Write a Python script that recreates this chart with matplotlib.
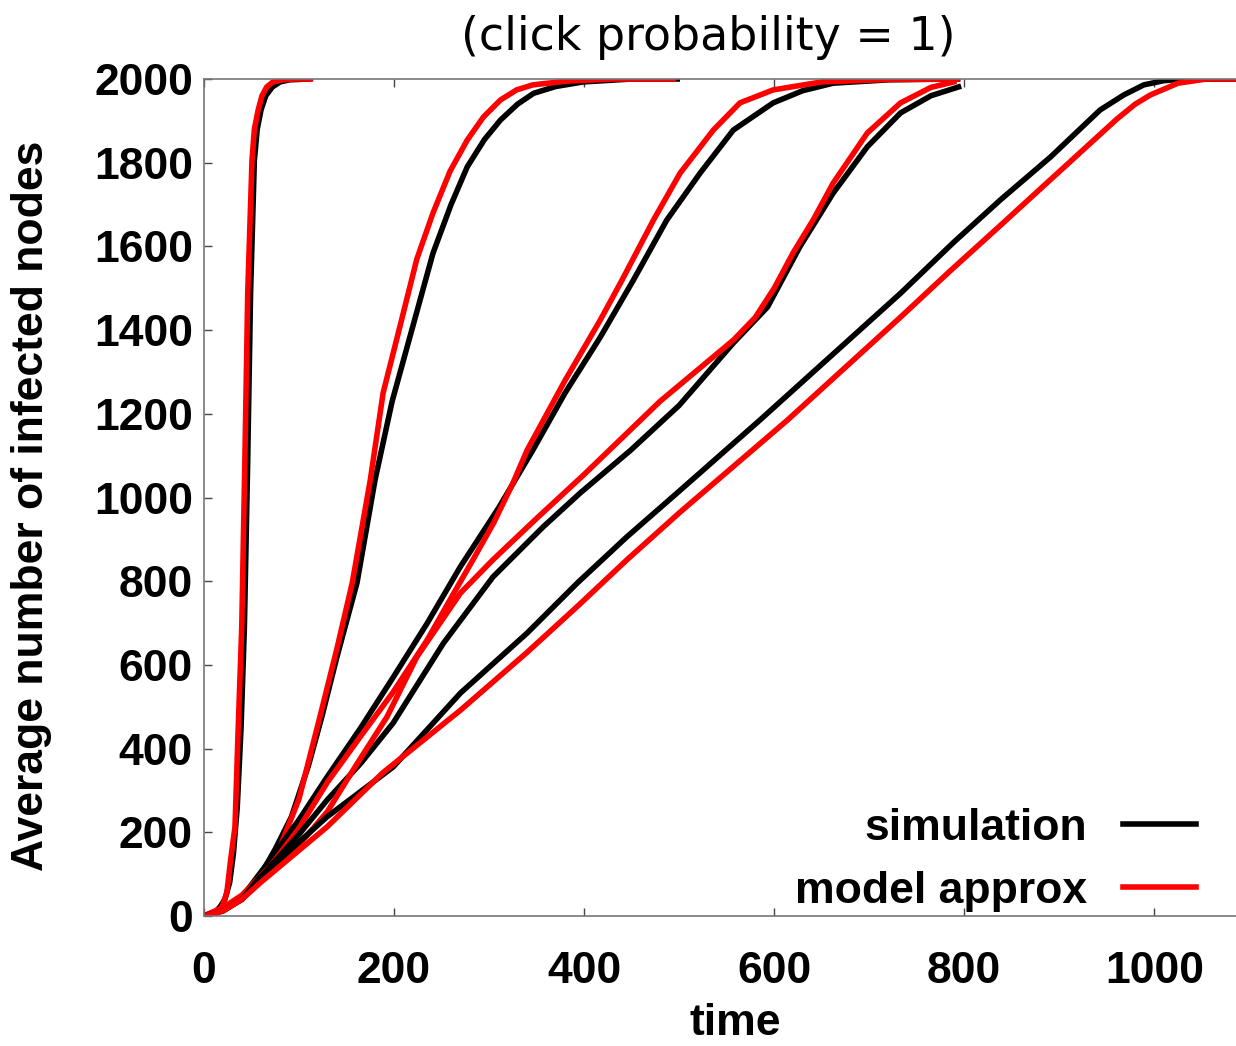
import matplotlib
matplotlib.use("Agg")
import matplotlib.pyplot as plt

plt.rcParams.update({"font.family": ["Liberation Sans", "DejaVu Sans"], "font.weight": "bold"})

# five spreading scenarios: simulation (black) vs model approx (red)
simA_t = [0, 10, 17, 22, 27, 31, 35, 39, 42.5, 46, 49, 53, 56, 60, 65, 72, 80, 90, 110]
simA_n = [0, 5, 22, 40, 80, 150, 260, 450, 690, 1090, 1488, 1806, 1880, 1926, 1960, 1981, 1993, 1998, 2000]
modA_t = [0, 10, 18, 24, 28, 32.6, 36, 39.7, 43, 46, 50.5, 53, 57, 61, 66, 72, 80, 95, 112]
modA_n = [0, 4, 15, 55, 134, 213, 450, 690, 1090, 1488, 1806, 1880, 1926, 1960, 1981, 1992, 1997, 2000, 2000]

simB_t = [0, 20, 40, 60, 75, 92, 110, 124, 140, 161, 180, 198, 215, 241, 260, 277, 295, 312, 330, 347, 370, 399, 450, 498]
simB_n = [0, 15, 45, 100, 160, 237, 360, 476, 620, 796, 1042, 1230, 1370, 1584, 1700, 1790, 1855, 1902, 1940, 1966, 1982, 1993, 2000, 2000]
modB_t = [0, 20, 40, 60, 80, 100, 122, 140, 156, 175, 188.5, 206, 224, 241, 259, 277, 294, 312, 329, 346, 382, 430, 494]
modB_n = [0, 20, 40, 90, 165, 280, 476, 640, 796, 1042, 1250, 1407, 1570, 1680, 1780, 1854, 1909, 1950, 1974, 1986, 1995, 2000, 2000]

simC_t = [0, 20, 40, 69.5, 100, 129.5, 165, 199, 235, 269.6, 310, 346, 380, 417, 452, 487, 522, 557, 599, 630, 662, 720, 793]
simC_n = [0, 15, 45, 134, 230, 332, 450, 570, 700, 834, 975, 1113, 1250, 1383, 1520, 1663, 1775, 1878, 1943, 1972, 1990, 1998, 2000]
modC_t = [0, 20, 40, 70, 100, 130, 165, 199, 235, 260, 283, 305, 325, 340, 380, 417, 440, 473, 501, 536, 564, 599, 650, 720, 793]
modC_n = [0, 20, 50, 120, 210, 320, 430, 535, 660, 760, 851, 940, 1034, 1113, 1280, 1424, 1520, 1663, 1775, 1878, 1943, 1974, 1993, 1999, 2000]

simD_t = [0, 20, 40, 69.5, 100, 129.5, 165, 199, 252, 304, 357, 396, 449, 500, 557, 593, 627, 662, 698, 733, 765, 794]
simD_n = [0, 15, 40, 118, 195, 277, 365, 461, 652, 810, 930, 1011, 1113, 1220, 1369, 1455, 1599, 1727, 1838, 1919, 1960, 1981]
modD_t = [0, 20, 40, 77, 100, 130, 160, 192.6, 224, 270, 304, 350, 400, 480, 557, 580, 600, 620, 641, 662, 698, 733, 765, 789]
modD_n = [0, 18, 45, 118, 170, 250, 360, 476, 619, 772, 851, 950, 1055, 1230, 1376, 1430, 1500, 1585, 1663, 1751, 1871, 1943, 1980, 1993]

simE_t = [0, 20, 40, 59, 129.5, 199, 270, 340, 393, 445, 498, 585, 733, 789, 838, 891, 943, 968, 989, 1010, 1031, 1090]
simE_n = [0, 12, 40, 93, 237, 356, 533, 676, 796, 906, 1011, 1185, 1488, 1610, 1711, 1814, 1926, 1962, 1986, 1996, 2000, 2000]
modE_t = [0, 20, 40, 59, 129.5, 188, 270, 340, 393, 445, 501, 614, 733, 785, 838, 891, 961, 980, 996, 1025, 1055, 1090]
modE_n = [0, 12, 40, 79, 213, 342, 492, 630, 740, 851, 965, 1185, 1431, 1541, 1650, 1760, 1905, 1940, 1962, 1990, 2000, 2000]

sims = [(simA_t, simA_n), (simB_t, simB_n), (simC_t, simC_n), (simD_t, simD_n), (simE_t, simE_n)]
mods = [(modA_t, modA_n), (modB_t, modB_n), (modC_t, modC_n), (modD_t, modD_n), (modE_t, modE_n)]

xticks = [0, 200, 400, 600, 800, 1000]
yticks = [0, 200, 400, 600, 800, 1000, 1200, 1400, 1600, 1800, 2000]

W, H = 1236, 1046
fig = plt.figure(figsize=(W / 100, H / 100), dpi=100)
ax = fig.add_axes([204 / W, 1 - 916 / H, (W - 204) / W, (916 - 79) / H])

for (st, sn), (mt, mn) in zip(sims, mods):
    ls, = ax.plot(st, sn, color="black", lw=4, solid_joinstyle="round")
    lm, = ax.plot(mt, mn, color="#ff0000", lw=4, solid_joinstyle="round")

ax.set_xlim(0, 1086)
ax.set_ylim(0, 2000)
ax.set_xticks(xticks)
ax.set_yticks(yticks)
ax.tick_params(axis="both", direction="in", length=6, width=1, color="#444444",
               labelsize=32, top=True, right=False)
ax.tick_params(axis="x", pad=25)
ax.tick_params(axis="y", pad=8)
for lab in ax.get_xticklabels() + ax.get_yticklabels():
    lab.set_fontweight("bold")
for s in ["left", "bottom", "top"]:
    ax.spines[s].set_color("#777777")
    ax.spines[s].set_linewidth(1.2)
ax.spines["right"].set_visible(False)

ax.set_xlabel("time", fontsize=32, fontweight="bold")
ax.xaxis.set_label_coords((735 - 204) / (W - 204), (916 - 1003) / 837)
ax.set_ylabel("Average number of infected nodes", fontsize=32, fontweight="bold")
ax.yaxis.set_label_coords((32 - 204) / (W - 204), 0.49)
ax.yaxis.label.set_va("center")

fig.text(708 / W, 1 - 37 / H, "(click probability = 1)", ha="center", va="center",
         fontsize=33, fontweight="normal", family="DejaVu Sans")

ax.legend([ls, lm], ["simulation", "model approx"], loc="lower right", frameon=False,
          markerfirst=False, handlelength=1.65, handletextpad=0.8,
          labelspacing=0.5, borderaxespad=0.3,
          bbox_to_anchor=(1 - 9 / 1032, -27 / 837),
          prop={"weight": "bold", "size": 32})

fig.savefig("out.png", dpi=100)
